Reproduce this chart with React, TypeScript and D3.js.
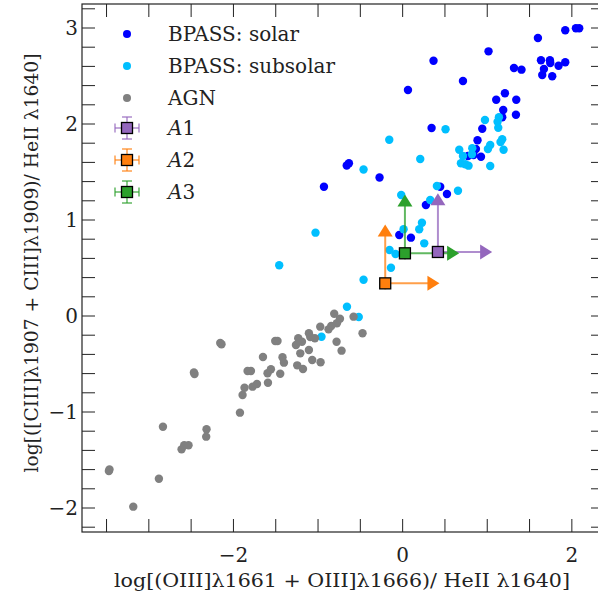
import React from "react";
import * as d3 from "d3";

const solarX = [2.048, 2.087, 1.922, 1.599, 1.015, 1.635, 1.741, 1.745, 1.843, 1.922, 1.670, 1.650, 1.768, 1.316, 1.405, 0.713, 1.209, 1.106, 1.343, 1.189, 1.339, 1.177, 0.941, 0.885, 0.866, 0.926, 0.772, 0.838, 0.365, 0.063, 0.342, -0.635, -0.661, -0.273, 0.444, 0.524, 0.275, -0.040, 0.098, -0.930];
const solarY = [2.997, 2.997, 2.976, 2.896, 2.757, 2.664, 2.664, 2.635, 2.607, 2.643, 2.573, 2.510, 2.497, 2.583, 2.566, 2.448, 2.320, 2.253, 2.253, 2.146, 2.097, 2.070, 1.951, 1.830, 1.740, 1.659, 1.667, 1.677, 2.659, 2.354, 1.958, 1.591, 1.568, 1.443, 1.347, 1.271, 1.156, 0.844, 0.816, 1.347];

const subsolarX = [0.507, 0.973, 1.138, 1.122, 1.130, 1.177, 1.157, 1.193, 1.035, 1.008, 0.669, 0.713, 0.823, 0.819, 0.689, 0.740, 0.779, 1.035, -0.158, 0.208, -0.462, 0.405, -0.017, 0.654, 0.326, 0.228, 0.196, 0.011, 0.255, -0.155, -0.084, -0.138, -0.462, -0.658, -1.030, -1.459, -0.519, -0.959];
const subsolarY = [1.945, 2.042, 2.070, 2.024, 1.961, 1.841, 1.813, 1.732, 1.781, 1.740, 1.732, 1.667, 1.747, 1.684, 1.591, 1.580, 1.566, 1.563, 1.836, 1.635, 1.526, 1.354, 1.260, 1.305, 1.208, 0.972, 0.903, 0.903, 0.757, 0.688, 0.646, 0.503, 0.378, 0.097, 0.868, 0.528, -0.010, -0.216];

const agnX = [-0.809, -0.741, -0.580, -0.474, -0.777, -0.844, -0.876, -0.974, -1.108, -1.037, -1.092, -1.234, -1.261, -1.190, -0.781, -0.722, -1.108, -1.210, -1.069, -0.970, -1.246, -1.178, -1.506, -1.479, -1.651, -1.420, -1.403, -1.833, -1.793, -1.557, -1.597, -1.447, -1.592, -1.722, -1.774, -1.869, -1.892, -1.923, -2.141, -2.156, -2.460, -2.467, -2.833, -2.881, -2.613, -2.582, -2.531, -2.318, -2.322, -3.465, -3.472, -3.184];
const agnY = [0.024, -0.028, -0.007, -0.180, -0.076, -0.104, -0.139, -0.111, -0.180, -0.232, -0.219, -0.232, -0.302, -0.268, -0.268, -0.361, -0.354, -0.389, -0.458, -0.482, -0.514, -0.552, -0.260, -0.260, -0.427, -0.430, -0.486, -0.573, -0.573, -0.555, -0.597, -0.601, -0.695, -0.708, -0.736, -0.747, -0.823, -1.007, -0.295, -0.281, -0.604, -0.589, -1.153, -1.695, -1.389, -1.347, -1.347, -1.180, -1.257, -1.599, -1.615, -1.986];

const objNames = ["A1", "A2", "A3"];
const objX = [0.417, -0.206, 0.027];
const objY = [0.667, 0.34, 0.653];
const objXLim = [0.57, 0.57, 0.57];
const objYLim = [0.55, 0.55, 0.55];
const objColors = ["#9467bd", "#ff7f0e", "#2ca02c"];

const seriesNames = ["BPASS: solar", "BPASS: subsolar", "AGN"];
const seriesColors = ["#0000ff", "#00bfff", "#808080"];

const xTicks = [-3.5, -3, -2.5, -2, -1.5, -1, -0.5, 0, 0.5, 1, 1.5, 2];
const xTickLabels = [-2, 0, 2];
const yTicks = d3.range(-2.2, 3.21, 0.2).map((v) => Math.round(v * 10) / 10);
const yTickLabels = [-2, -1, 0, 1, 2, 3];

const W = 598, H = 594;
const L = 82, R = 604, T = 4, B = 532;
const FONT = "DejaVu Serif";

function fmt(v: number) {
  return v < 0 ? "\u2212" + Math.abs(v) : String(v);
}

export default function App() {
  const x = d3.scaleLinear().domain([-3.79, 2.38]).range([L, R]);
  const y = d3.scaleLinear().domain([-2.25, 3.25]).range([B, T]);
  const series = [
    { xs: solarX, ys: solarY },
    { xs: subsolarX, ys: subsolarY },
    { xs: agnX, ys: agnY },
  ];
  const tl = 13;
  const sq = 11;
  const triUp = (cx: number, cy: number) => `M${cx - 7.5},${cy + 6}L${cx + 7.5},${cy + 6}L${cx},${cy - 6}Z`;
  const triRight = (cx: number, cy: number) => `M${cx - 6},${cy - 7.5}L${cx - 6},${cy + 7.5}L${cx + 6},${cy}Z`;
  const legX = 127, legTextX = 168;
  const legRows = [34, 66, 98, 128, 160, 192];

  return (
    <svg width={W} height={H} style={{ position: "absolute", left: 0, top: 0, background: "#fff", fontFamily: FONT }}>
      <rect x={0} y={0} width={W} height={H} fill="#fff" />
      {series.map((s, si) => (
        <g key={si} fill={seriesColors[si]}>
          {s.xs.map((v, i) => (
            <circle key={i} cx={x(v)} cy={y(s.ys[i])} r={4.2} />
          ))}
        </g>
      ))}
      {objNames.map((n, i) => {
        const cx = x(objX[i]), cy = y(objY[i]);
        const ex = x(objX[i] + objXLim[i]), ey = y(objY[i] + objYLim[i]);
        return (
          <g key={n}>
            <line x1={cx} y1={cy + 6} x2={cx} y2={ey} stroke={objColors[i]} strokeWidth={2} strokeOpacity={0.75} />
            <line x1={cx} y1={cy} x2={ex} y2={cy} stroke={objColors[i]} strokeWidth={2} strokeOpacity={0.75} />
            <path d={triUp(cx, ey)} fill={objColors[i]} />
            <path d={triRight(ex, cy)} fill={objColors[i]} />
          </g>
        );
      })}
      {objNames.map((n, i) => (
        <rect key={n} x={x(objX[i]) - sq / 2} y={y(objY[i]) - sq / 2} width={sq} height={sq} fill={objColors[i]} stroke="#000" strokeWidth={1.3} />
      ))}
      <rect x={L} y={T} width={R - L} height={B - T} fill="none" stroke="#222" strokeWidth={1.2} />
      {xTicks.map((t) => (
        <g key={"x" + t} stroke="#222" strokeWidth={1}>
          <line x1={x(t)} x2={x(t)} y1={B} y2={B - tl} />
          <line x1={x(t)} x2={x(t)} y1={T} y2={T + tl} />
        </g>
      ))}
      {yTicks.map((t) => (
        <g key={"y" + t} stroke="#222" strokeWidth={1}>
          <line x1={L} x2={L + tl} y1={y(t)} y2={y(t)} />
          <line x1={R} x2={R - tl} y1={y(t)} y2={y(t)} />
        </g>
      ))}
      {xTickLabels.map((t) => (
        <text key={"xl" + t} x={x(t)} y={562} textAnchor="middle" fontSize={20} fill="#222">{fmt(t)}</text>
      ))}
      {yTickLabels.map((t) => (
        <text key={"yl" + t} x={78} y={y(t) + 7} textAnchor="end" fontSize={20} fill="#222">{fmt(t)}</text>
      ))}
      <text x={342} y={587} textAnchor="middle" fontSize={19} fill="#222" textLength={456} lengthAdjust="spacingAndGlyphs">
        log[(OIII]λ1661 + OIII]λ1666)/ HeII λ1640]
      </text>
      <text transform={`translate(38,${(T + B) / 2 - 5}) rotate(-90)`} textAnchor="middle" fontSize={19} fill="#222" textLength={419} lengthAdjust="spacingAndGlyphs">
        log[([CIII]λ1907 + CIII]λ1909)/ HeII λ1640]
      </text>
      {seriesNames.map((n, i) => (
        <g key={n}>
          <circle cx={legX} cy={legRows[i]} r={4} fill={seriesColors[i]} />
          <text x={legTextX} y={legRows[i] + 7} fontSize={20} fill="#222">{n}</text>
        </g>
      ))}
      {objNames.map((n, i) => {
        const cy = legRows[3 + i];
        const c = objColors[i];
        return (
          <g key={"leg" + n}>
            <g stroke={c} strokeWidth={1.6} strokeOpacity={0.7}>
              <line x1={legX - 12} x2={legX + 12} y1={cy} y2={cy} />
              <line x1={legX - 12} x2={legX - 12} y1={cy - 4.5} y2={cy + 4.5} />
              <line x1={legX + 12} x2={legX + 12} y1={cy - 4.5} y2={cy + 4.5} />
              <line x1={legX} x2={legX} y1={cy - 11} y2={cy + 11} />
              <line x1={legX - 5} x2={legX + 5} y1={cy - 11} y2={cy - 11} />
              <line x1={legX - 5} x2={legX + 5} y1={cy + 11} y2={cy + 11} />
            </g>
            <rect x={legX - sq / 2} y={cy - sq / 2} width={sq} height={sq} fill={c} stroke="#000" strokeWidth={1.3} />
            <text x={legTextX} y={cy + 7} fontSize={20} fill="#222">
              <tspan fontStyle="italic">A</tspan>{n.slice(1)}
            </text>
          </g>
        );
      })}
    </svg>
  );
}
